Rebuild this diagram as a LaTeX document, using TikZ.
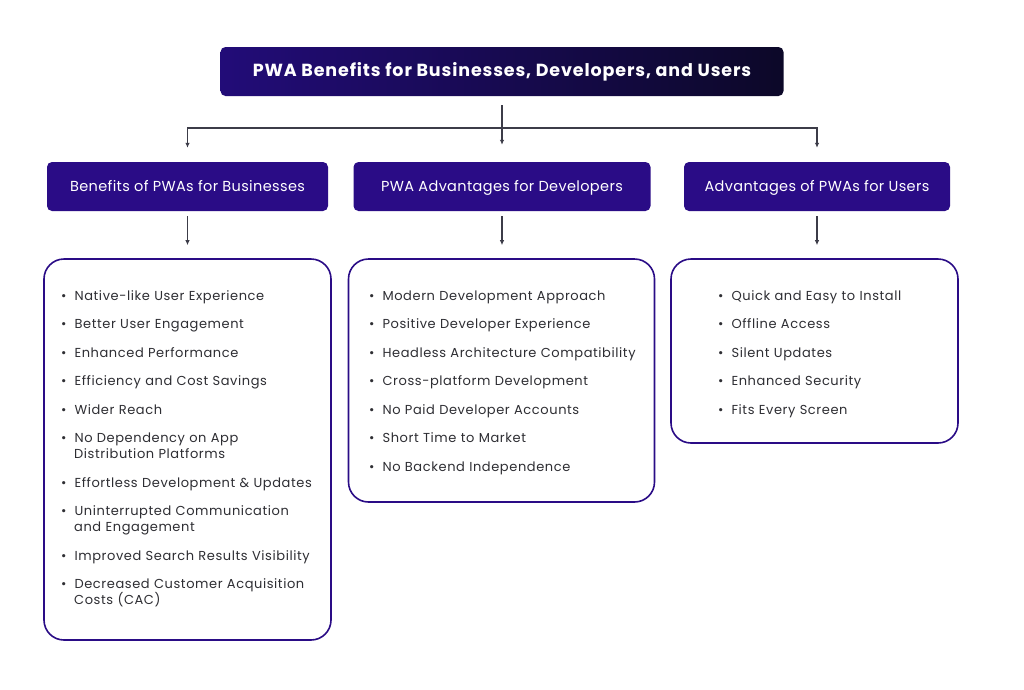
\documentclass[tikz,border=0pt]{standalone}
\usepackage{fontspec}
\setmainfont{Poppins}
\newfontfamily\itemfont[LetterSpace=4.5]{Poppins}
\newfontfamily\headfont[LetterSpace=2.5]{Poppins}
\newfontfamily\titlefont[LetterSpace=5]{Poppins}
\usepackage{tikz}
\usetikzlibrary{positioning,arrows.meta}
\tikzset{>={Latex[length=5pt,width=4.5pt]}}
\definecolor{indigo}{HTML}{2A0C86}
\definecolor{navyL}{HTML}{220C78}
\definecolor{navyR}{HTML}{0C0828}
\definecolor{itemgray}{HTML}{2E2E33}
\definecolor{linegray}{HTML}{3C3C48}

\newenvironment{pwalist}{%
  \begin{list}{\textbullet}{\setlength\leftmargin{10pt}\setlength\labelsep{8pt}%
    \setlength\labelwidth{5pt}\setlength\itemsep{12.5pt}\setlength\parsep{0pt}%
    \setlength\topsep{0pt}\setlength\partopsep{0pt}}}{\end{list}}

\begin{document}
\begin{tikzpicture}[x=1pt, y=-1pt, text height=1.5ex, text depth=0pt]
    \tikzset{%
      topbox/.style={rounded corners=5pt, left color=navyL, right color=navyR, text height=1.9ex,
        minimum width=563, minimum height=49, text=white, font=\titlefont\fontsize{17.5}{20}\selectfont\bfseries},
      headbox/.style={rounded corners=5pt, fill=indigo, minimum height=49, text=white, text height=1.7ex,
        font=\headfont\fontsize{14.5}{17}\selectfont},
      listbox/.style={draw=indigo, line width=1.6pt, rounded corners=20pt, fill=white},
      items/.style={anchor=north west, inner sep=0pt, text width=270pt, text=itemgray,
        text height=, text depth=, font=\itemfont\fontsize{13}{16}\selectfont},
      conn/.style={draw=linegray, line width=1.1pt}
      }
     \useasboundingbox[fill=white] (0,0) rectangle (1024,689);

     \node [topbox] (pwa) at (502,71.5) {PWA Benefits for Businesses, Developers, and Users};

     \node [headbox, minimum width=281] (biz) at (187.5,186.5) {Benefits of PWAs for Businesses};
     \node [headbox, minimum width=297] (dev) at (502,186.5) {PWA Advantages for Developers};
     \node [headbox, minimum width=266] (usr) at (817,186.5) {Advantages of PWAs for Users};

     \node [listbox, minimum width=287, minimum height=381] (bizlist) at (187.5,449.5) {};
     \node [listbox, minimum width=306, minimum height=243] (devlist) at (501.5,380.5) {};
     \node [listbox, minimum width=287, minimum height=184] (usrlist) at (814.5,351) {};

     \coordinate (bus) at (502,128);
     \draw [conn, ->] ([yshift=-9pt]pwa.south) -- ([yshift=17pt]dev.north);
     \draw [conn, <->] ([yshift=14pt]biz.north) -- (biz.north |- bus) -- (usr.north |- bus) -- ([yshift=14pt]usr.north);

     \draw [conn, ->] ([yshift=-5pt]biz.south) -- ([yshift=13pt]biz.south |- bizlist.north);
     \draw [conn, ->] ([yshift=-5pt]dev.south) -- ([yshift=13pt]dev.south |- devlist.north);
     \draw [conn, ->] ([yshift=-5pt]usr.south) -- ([yshift=13pt]usr.south |- usrlist.north);

     \node [items] (bizitems) at (64,284) {\begin{pwalist}
       \item Native-like User Experience
       \item Better User Engagement
       \item Enhanced Performance
       \item Efficiency and Cost Savings
       \item Wider Reach
       \item No Dependency on App\\Distribution Platforms
       \item Effortless Development \& Updates
       \item Uninterrupted Communication\\and Engagement
       \item Improved Search Results Visibility
       \item Decreased Customer Acquisition\\Costs (CAC)
     \end{pwalist}};

     \node [items] (devitems) at (372,284) {\begin{pwalist}
       \item Modern Development Approach
       \item Positive Developer Experience
       \item Headless Architecture Compatibility
       \item Cross-platform Development
       \item No Paid Developer Accounts
       \item Short Time to Market
       \item No Backend Independence
     \end{pwalist}};

     \node [items] (usritems) at (721,284) {\begin{pwalist}
       \item Quick and Easy to Install
       \item Offline Access
       \item Silent Updates
       \item Enhanced Security
       \item Fits Every Screen
     \end{pwalist}};

  \end{tikzpicture}
\end{document}
